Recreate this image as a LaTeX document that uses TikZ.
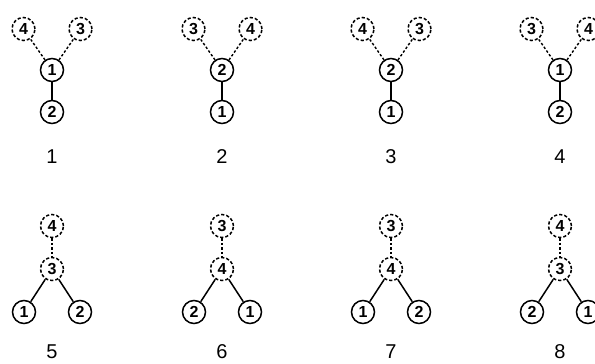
\documentclass[tikz,border=0pt]{standalone}
\usepackage{fontspec}
\setmainfont{Liberation Sans}
\begin{document}
\begin{tikzpicture}[x=1pt,y=-1pt,
  solidnode/.style={circle,draw,line width=1.5pt,minimum size=23pt,inner sep=0pt,font=\fontsize{16}{16}\selectfont\bfseries},
  dashnode/.style={solidnode,dash pattern=on 3.2pt off 2pt},
  solidedge/.style={line width=1.5pt},
  dashedge/.style={line width=1.4pt,dash pattern=on 2.5pt off 2pt},
  caption/.style={font=\fontsize{20}{20}\selectfont,inner sep=0pt}]
\useasboundingbox (0,0) rectangle (595,364);
\newcommand\ToprowPanel[6]{%
  \node[solidnode] (#1m) at (#2,70) {#3};
  \node[solidnode] (#1b) at (#2,112) {#4};
  \node[dashnode] (#1l) at (#2-28.5,29) {#5};
  \node[dashnode] (#1r) at (#2+28.5,29) {#6};
  \draw[solidedge] (#1m) -- (#1b);
  \draw[dashedge] (#1m) -- (#1l);
  \draw[dashedge] (#1m) -- (#1r);
}
\newcommand\BotrowPanel[6]{%
  \node[dashnode] (#1t) at (#2,226) {#3};
  \node[dashnode] (#1m) at (#2,269) {#4};
  \node[solidnode] (#1l) at (#2-28,312) {#5};
  \node[solidnode] (#1r) at (#2+28,312) {#6};
  \draw[dashedge] (#1t) -- (#1m);
  \draw[solidedge] (#1m) -- (#1l);
  \draw[solidedge] (#1m) -- (#1r);
}
\ToprowPanel{pa}{52}{1}{2}{4}{3}
\ToprowPanel{pb}{222}{2}{1}{3}{4}
\ToprowPanel{pc}{391}{2}{1}{4}{3}
\ToprowPanel{pd}{560}{1}{2}{3}{4}
\BotrowPanel{pe}{52}{4}{3}{1}{2}
\BotrowPanel{pf}{222}{3}{4}{2}{1}
\BotrowPanel{pg}{391}{3}{4}{1}{2}
\BotrowPanel{ph}{560}{4}{3}{2}{1}
\node[caption] (la) at (52,157) {1};
\node[caption] (lb) at (222,157) {2};
\node[caption] (lc) at (391,157) {3};
\node[caption] (ld) at (560,157) {4};
\node[caption] (le) at (52,352) {5};
\node[caption] (lf) at (222,352) {6};
\node[caption] (lg) at (391,352) {7};
\node[caption] (lh) at (560,352) {8};
\end{tikzpicture}
\end{document}
